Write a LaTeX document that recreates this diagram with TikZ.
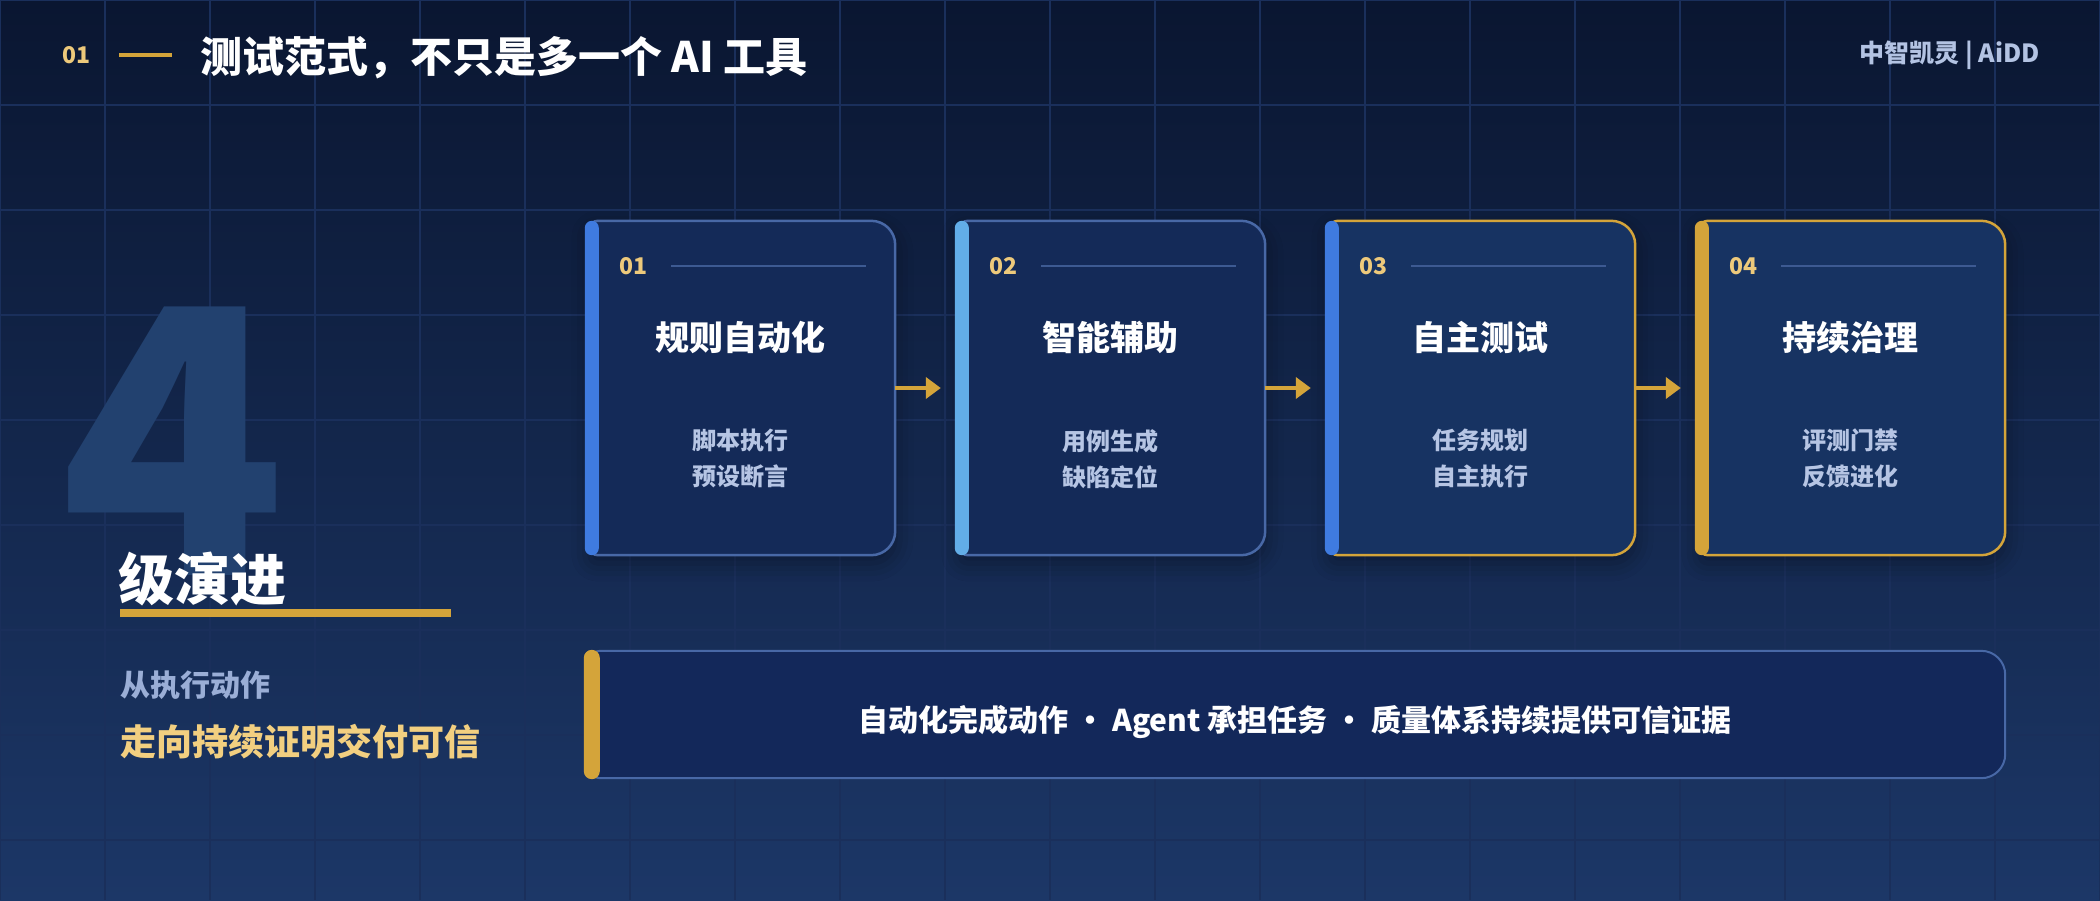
\documentclass[tikz,border=0pt]{standalone}
\usepackage{fontspec}
\setmainfont{Noto Sans CJK SC}
\usetikzlibrary{arrows.meta,calc,shadows.blur}
\definecolor{bgtop}{HTML}{0A1631}
\definecolor{bgbot}{HTML}{1C3767}
\definecolor{gridc}{HTML}{1A2F5B}
\definecolor{gold}{HTML}{D4A43A}
\definecolor{goldtxt}{HTML}{EDC97B}
\definecolor{goldsub}{HTML}{F2CF80}
\definecolor{cardfillA}{HTML}{142A58}
\definecolor{cardfillB}{HTML}{173362}
\definecolor{cardline}{HTML}{4868A6}
\definecolor{divline}{HTML}{3D5A92}
\definecolor{blueA}{HTML}{3F7BE0}
\definecolor{blueB}{HTML}{62ADE8}
\definecolor{subtxt}{HTML}{B6C5E4}
\definecolor{mutetxt}{HTML}{9AAED6}
\definecolor{brandtxt}{HTML}{B3C3E3}
\definecolor{bigfour}{HTML}{22416F}
\definecolor{boxfill}{HTML}{13285A}
\begin{document}
\begin{tikzpicture}[x=1pt,y=-1pt,
  gridline/.style={draw=gridc,line width=1.2pt},
  cardnode/.style={minimum width=305pt,minimum height=334pt,inner sep=0pt,draw=none},
  boxnode/.style={minimum width=1413pt,minimum height=127pt,inner sep=0pt,draw=none},
  cardshadow/.style={blur shadow={shadow xshift=0pt,shadow yshift=-8pt,shadow blur radius=18pt,shadow opacity=35}},
  numtxt/.style={anchor=west,inner sep=0pt,text=goldtxt,font=\bfseries\fontsize{23}{23}\selectfont},
  cardtitle/.style={inner sep=0pt,text=white,font=\bfseries\fontsize{34}{34}\selectfont},
  cardsub/.style={inner sep=0pt,align=center,text=subtxt,font=\bfseries\fontsize{24}{36}\selectfont},
  flow/.style={draw=gold,line width=4pt,-{Triangle[length=15pt,width=21pt]},shorten >=19pt},
  sumtxt/.style={inner sep=0pt,text=white,font=\bfseries\fontsize{30}{30}\selectfont}
]
\useasboundingbox (0,0) rectangle (2100,900);
\shade[top color=bgtop,bottom color=bgbot] (0,0) rectangle (2100,900);
% grid
\foreach \gx in {0,105,...,2100} \draw[gridline] (\gx,0) -- (\gx,900);
\foreach \gy in {0,105,...,900} \draw[gridline] (0,\gy) -- (2100,\gy);

% header
\node[anchor=west,inner sep=0pt,text=goldtxt,font=\bfseries\fontsize{23}{23}\selectfont] (hnum) at (62,55) {01};
\coordinate (hl1) at (119,55);
\coordinate (hl2) at (172,55);
\draw[draw=gold,line width=4pt] (hl1) -- (hl2);
\node[anchor=west,inner sep=0pt,text=white,font=\bfseries\fontsize{42}{42}\selectfont] (title) at (200,58) {测试范式，不只是多一个 AI 工具};
\node[anchor=east,inner sep=0pt,text=brandtxt,font=\bfseries\fontsize{25}{25}\selectfont] (brand) at (2040,55) {中智凯灵 | AiDD};

% big 4 and left text
\node[anchor=base west,inner sep=0pt,text=bigfour,font=\bfseries\fontsize{370}{370}\selectfont] (four) at (60,575) {4};
\node[anchor=west,inner sep=0pt,text=white,font=\bfseries\fontsize{56}{56}\selectfont] (lvl) at (118,579) {级演进};
\fill[gold] (120,609) rectangle (451,617);
\node[anchor=west,inner sep=0pt,text=mutetxt,font=\bfseries\fontsize{30}{30}\selectfont] (from) at (120,685) {从执行动作};
\node[anchor=west,inner sep=0pt,text=goldsub,font=\bfseries\fontsize{36}{36}\selectfont] (to) at (120,742) {走向持续证明交付可信};

% cards
\foreach \i/\bar/\bc/\fc/\ta/\sa/\sb in {
  1/blueA/cardline/cardfillA/规则自动化/脚本执行/预设断言,
  2/blueB/cardline/cardfillA/智能辅助/用例生成/缺陷定位,
  3/blueA/gold/cardfillB/自主测试/任务规划/自主执行,
  4/gold/gold/cardfillB/持续治理/评测门禁/反馈进化}{
  \pgfmathsetmacro{\cx}{742.5+370*(\i-1)}
  \node[cardnode] (c\i) at (\cx,388) {};
  \draw[line width=2.5pt,draw=\bc,fill=\fc,cardshadow]
    (c\i.south west) [rounded corners=8pt] -- (c\i.north west)
    [rounded corners=24pt] -- (c\i.north east) -- (c\i.south east)
    [rounded corners=8pt] -- cycle;
  \fill[\bar,rounded corners=7pt] ($(c\i.north west)+(-5,0)$) rectangle ($(c\i.south west)+(9,0)$);
  \node[numtxt] (n\i) at ($(c\i.north west)+(29,45)$) {0\i};
  \draw[draw=divline,line width=2pt] ($(c\i.north west)+(81,45)$) -- ($(c\i.north east)+(-29,45)$);
  \node[cardtitle] (t\i) at ($(c\i.north)+(-2,117)$) {\ta};
  \node[cardsub] (s\i) at ($(c\i.north)+(-2,238)$) {\sa\\\sb};
}
\draw[flow] (c1.east) -- (c2.west);
\draw[flow] (c2.east) -- (c3.west);
\draw[flow] (c3.east) -- (c4.west);

% summary box
\node[boxnode] (sum) at (1298.5,714.5) {};
\draw[line width=2pt,draw=cardline,fill=boxfill]
  (sum.south west) [rounded corners=8pt] -- (sum.north west)
  [rounded corners=24pt] -- (sum.north east) -- (sum.south east)
  [rounded corners=8pt] -- cycle;
\fill[gold,rounded corners=8pt] ($(sum.north west)+(-8,-1)$) rectangle ($(sum.south west)+(8,1)$);
\node[sumtxt] (sumt) at (1295,722) {自动化完成动作 · Agent 承担任务 · 质量体系持续提供可信证据};
\end{tikzpicture}
\end{document}
